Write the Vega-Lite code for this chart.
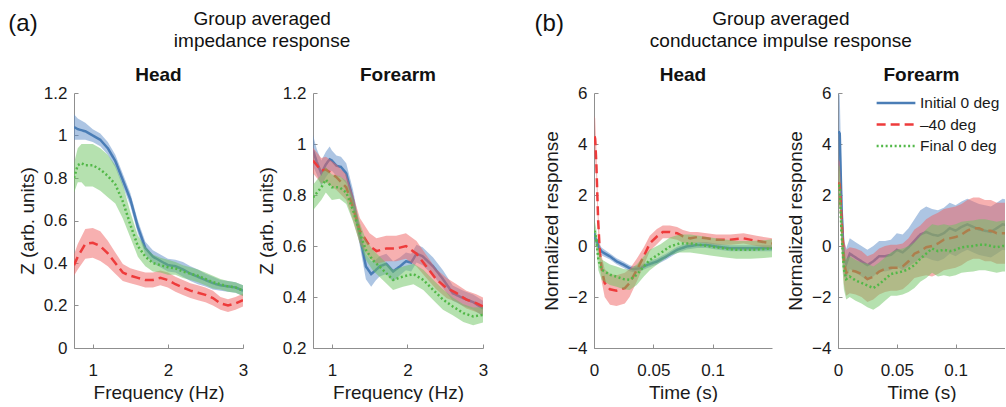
{
"$schema": "https://vega.github.io/schema/vega-lite/v6.json",
"padding": {"left": 8, "top": 10, "right": 0, "bottom": 0},
"background": "white",
"config": {
  "font": "Liberation Sans",
  "view": {"stroke": null},
  "axis": {"grid": false, "domainColor": "#8f8f8f", "tickColor": "#8f8f8f", "tickSize": -4, "labelFontSize": 17, "titleFontSize": 19, "titleFontWeight": "normal", "labelColor": "#1a1a1a", "titleColor": "#1a1a1a", "domainWidth": 1},
  "axisX": {"labelPadding": 18, "titlePadding": 5, "labelFlush": false},
  "axisY": {"labelPadding": 11, "titlePadding": 6},
  "title": {"fontSize": 19, "fontWeight": "bold", "color": "#111111", "offset": -1}
},
"datasets": {
"zh": [
{"c":"Initial 0 deg","x":0.75,"y":1.04,"lo":0.98,"hi":1.10},
{"c":"Initial 0 deg","x":0.8,"y":1.03,"lo":0.98,"hi":1.08},
{"c":"Initial 0 deg","x":0.9,"y":1.02,"lo":0.98,"hi":1.06},
{"c":"Initial 0 deg","x":1.0,"y":1.00,"lo":0.97,"hi":1.03},
{"c":"Initial 0 deg","x":1.1,"y":0.98,"lo":0.95,"hi":1.01},
{"c":"Initial 0 deg","x":1.2,"y":0.94,"lo":0.91,"hi":0.97},
{"c":"Initial 0 deg","x":1.3,"y":0.88,"lo":0.85,"hi":0.91},
{"c":"Initial 0 deg","x":1.4,"y":0.79,"lo":0.76,"hi":0.82},
{"c":"Initial 0 deg","x":1.5,"y":0.70,"lo":0.67,"hi":0.73},
{"c":"Initial 0 deg","x":1.6,"y":0.57,"lo":0.54,"hi":0.60},
{"c":"Initial 0 deg","x":1.7,"y":0.47,"lo":0.44,"hi":0.50},
{"c":"Initial 0 deg","x":1.8,"y":0.43,"lo":0.40,"hi":0.46},
{"c":"Initial 0 deg","x":1.9,"y":0.41,"lo":0.38,"hi":0.44},
{"c":"Initial 0 deg","x":2.0,"y":0.39,"lo":0.36,"hi":0.42},
{"c":"Initial 0 deg","x":2.1,"y":0.385,"lo":0.355,"hi":0.415},
{"c":"Initial 0 deg","x":2.2,"y":0.37,"lo":0.335,"hi":0.405},
{"c":"Initial 0 deg","x":2.3,"y":0.35,"lo":0.315,"hi":0.385},
{"c":"Initial 0 deg","x":2.4,"y":0.335,"lo":0.30,"hi":0.37},
{"c":"Initial 0 deg","x":2.5,"y":0.32,"lo":0.29,"hi":0.35},
{"c":"Initial 0 deg","x":2.6,"y":0.305,"lo":0.275,"hi":0.335},
{"c":"Initial 0 deg","x":2.7,"y":0.295,"lo":0.27,"hi":0.32},
{"c":"Initial 0 deg","x":2.8,"y":0.29,"lo":0.265,"hi":0.315},
{"c":"Initial 0 deg","x":2.9,"y":0.285,"lo":0.26,"hi":0.31},
{"c":"Initial 0 deg","x":3.0,"y":0.27,"lo":0.245,"hi":0.295},
{"c":"–40 deg","x":0.75,"y":0.39,"lo":0.34,"hi":0.44},
{"c":"–40 deg","x":0.8,"y":0.43,"lo":0.37,"hi":0.49},
{"c":"–40 deg","x":0.9,"y":0.49,"lo":0.42,"hi":0.56},
{"c":"–40 deg","x":1.0,"y":0.495,"lo":0.425,"hi":0.565},
{"c":"–40 deg","x":1.1,"y":0.48,"lo":0.41,"hi":0.55},
{"c":"–40 deg","x":1.2,"y":0.445,"lo":0.385,"hi":0.505},
{"c":"–40 deg","x":1.3,"y":0.40,"lo":0.35,"hi":0.45},
{"c":"–40 deg","x":1.4,"y":0.355,"lo":0.315,"hi":0.395},
{"c":"–40 deg","x":1.5,"y":0.34,"lo":0.305,"hi":0.375},
{"c":"–40 deg","x":1.6,"y":0.33,"lo":0.295,"hi":0.365},
{"c":"–40 deg","x":1.7,"y":0.32,"lo":0.285,"hi":0.355},
{"c":"–40 deg","x":1.8,"y":0.32,"lo":0.285,"hi":0.355},
{"c":"–40 deg","x":1.9,"y":0.33,"lo":0.295,"hi":0.365},
{"c":"–40 deg","x":2.0,"y":0.32,"lo":0.285,"hi":0.355},
{"c":"–40 deg","x":2.1,"y":0.30,"lo":0.265,"hi":0.335},
{"c":"–40 deg","x":2.2,"y":0.285,"lo":0.25,"hi":0.32},
{"c":"–40 deg","x":2.3,"y":0.27,"lo":0.235,"hi":0.305},
{"c":"–40 deg","x":2.4,"y":0.26,"lo":0.225,"hi":0.295},
{"c":"–40 deg","x":2.5,"y":0.25,"lo":0.215,"hi":0.285},
{"c":"–40 deg","x":2.6,"y":0.235,"lo":0.20,"hi":0.27},
{"c":"–40 deg","x":2.7,"y":0.21,"lo":0.18,"hi":0.24},
{"c":"–40 deg","x":2.8,"y":0.20,"lo":0.17,"hi":0.23},
{"c":"–40 deg","x":2.9,"y":0.21,"lo":0.18,"hi":0.24},
{"c":"–40 deg","x":3.0,"y":0.225,"lo":0.195,"hi":0.255},
{"c":"Final 0 deg","x":0.75,"y":0.80,"lo":0.73,"hi":0.87},
{"c":"Final 0 deg","x":0.8,"y":0.86,"lo":0.78,"hi":0.94},
{"c":"Final 0 deg","x":0.85,"y":0.87,"lo":0.78,"hi":0.96},
{"c":"Final 0 deg","x":0.9,"y":0.86,"lo":0.76,"hi":0.96},
{"c":"Final 0 deg","x":1.0,"y":0.86,"lo":0.76,"hi":0.96},
{"c":"Final 0 deg","x":1.1,"y":0.84,"lo":0.74,"hi":0.94},
{"c":"Final 0 deg","x":1.2,"y":0.81,"lo":0.71,"hi":0.91},
{"c":"Final 0 deg","x":1.3,"y":0.77,"lo":0.68,"hi":0.86},
{"c":"Final 0 deg","x":1.4,"y":0.69,"lo":0.61,"hi":0.77},
{"c":"Final 0 deg","x":1.5,"y":0.58,"lo":0.52,"hi":0.64},
{"c":"Final 0 deg","x":1.6,"y":0.48,"lo":0.43,"hi":0.53},
{"c":"Final 0 deg","x":1.7,"y":0.43,"lo":0.385,"hi":0.475},
{"c":"Final 0 deg","x":1.8,"y":0.40,"lo":0.36,"hi":0.44},
{"c":"Final 0 deg","x":1.9,"y":0.39,"lo":0.355,"hi":0.425},
{"c":"Final 0 deg","x":2.0,"y":0.38,"lo":0.345,"hi":0.415},
{"c":"Final 0 deg","x":2.1,"y":0.375,"lo":0.345,"hi":0.405},
{"c":"Final 0 deg","x":2.2,"y":0.36,"lo":0.33,"hi":0.39},
{"c":"Final 0 deg","x":2.3,"y":0.35,"lo":0.32,"hi":0.38},
{"c":"Final 0 deg","x":2.4,"y":0.34,"lo":0.31,"hi":0.37},
{"c":"Final 0 deg","x":2.5,"y":0.325,"lo":0.295,"hi":0.355},
{"c":"Final 0 deg","x":2.6,"y":0.31,"lo":0.28,"hi":0.34},
{"c":"Final 0 deg","x":2.7,"y":0.30,"lo":0.275,"hi":0.325},
{"c":"Final 0 deg","x":2.8,"y":0.29,"lo":0.265,"hi":0.315},
{"c":"Final 0 deg","x":2.9,"y":0.285,"lo":0.26,"hi":0.31},
{"c":"Final 0 deg","x":3.0,"y":0.27,"lo":0.245,"hi":0.295}
],
"zf": [
{"c":"Initial 0 deg","x":0.75,"y":0.975,"lo":0.915,"hi":1.035},
{"c":"Initial 0 deg","x":0.8,"y":0.93,"lo":0.88,"hi":0.98},
{"c":"Initial 0 deg","x":0.86,"y":0.885,"lo":0.835,"hi":0.935},
{"c":"Initial 0 deg","x":0.92,"y":0.92,"lo":0.87,"hi":0.97},
{"c":"Initial 0 deg","x":0.97,"y":0.94,"lo":0.89,"hi":0.99},
{"c":"Initial 0 deg","x":1.0,"y":0.935,"lo":0.895,"hi":0.975},
{"c":"Initial 0 deg","x":1.06,"y":0.915,"lo":0.875,"hi":0.955},
{"c":"Initial 0 deg","x":1.12,"y":0.91,"lo":0.87,"hi":0.95},
{"c":"Initial 0 deg","x":1.19,"y":0.885,"lo":0.845,"hi":0.925},
{"c":"Initial 0 deg","x":1.28,"y":0.78,"lo":0.74,"hi":0.82},
{"c":"Initial 0 deg","x":1.37,"y":0.64,"lo":0.60,"hi":0.68},
{"c":"Initial 0 deg","x":1.45,"y":0.52,"lo":0.47,"hi":0.57},
{"c":"Initial 0 deg","x":1.52,"y":0.49,"lo":0.44,"hi":0.54},
{"c":"Initial 0 deg","x":1.58,"y":0.505,"lo":0.465,"hi":0.545},
{"c":"Initial 0 deg","x":1.63,"y":0.52,"lo":0.48,"hi":0.56},
{"c":"Initial 0 deg","x":1.72,"y":0.53,"lo":0.49,"hi":0.57},
{"c":"Initial 0 deg","x":1.81,"y":0.50,"lo":0.46,"hi":0.54},
{"c":"Initial 0 deg","x":1.9,"y":0.52,"lo":0.485,"hi":0.555},
{"c":"Initial 0 deg","x":1.98,"y":0.54,"lo":0.505,"hi":0.575},
{"c":"Initial 0 deg","x":2.05,"y":0.535,"lo":0.50,"hi":0.57},
{"c":"Initial 0 deg","x":2.12,"y":0.57,"lo":0.535,"hi":0.605},
{"c":"Initial 0 deg","x":2.2,"y":0.56,"lo":0.525,"hi":0.595},
{"c":"Initial 0 deg","x":2.34,"y":0.52,"lo":0.485,"hi":0.555},
{"c":"Initial 0 deg","x":2.47,"y":0.47,"lo":0.435,"hi":0.505},
{"c":"Initial 0 deg","x":2.6,"y":0.415,"lo":0.385,"hi":0.445},
{"c":"Initial 0 deg","x":2.74,"y":0.395,"lo":0.365,"hi":0.425},
{"c":"Initial 0 deg","x":2.87,"y":0.38,"lo":0.35,"hi":0.41},
{"c":"Initial 0 deg","x":3.0,"y":0.355,"lo":0.325,"hi":0.385},
{"c":"–40 deg","x":0.75,"y":0.935,"lo":0.885,"hi":0.985},
{"c":"–40 deg","x":0.86,"y":0.895,"lo":0.845,"hi":0.945},
{"c":"–40 deg","x":0.92,"y":0.90,"lo":0.85,"hi":0.95},
{"c":"–40 deg","x":1.06,"y":0.87,"lo":0.82,"hi":0.92},
{"c":"–40 deg","x":1.19,"y":0.83,"lo":0.78,"hi":0.88},
{"c":"–40 deg","x":1.28,"y":0.75,"lo":0.70,"hi":0.80},
{"c":"–40 deg","x":1.37,"y":0.66,"lo":0.61,"hi":0.71},
{"c":"–40 deg","x":1.5,"y":0.60,"lo":0.55,"hi":0.65},
{"c":"–40 deg","x":1.59,"y":0.58,"lo":0.53,"hi":0.63},
{"c":"–40 deg","x":1.72,"y":0.59,"lo":0.54,"hi":0.64},
{"c":"–40 deg","x":1.85,"y":0.59,"lo":0.54,"hi":0.64},
{"c":"–40 deg","x":1.98,"y":0.60,"lo":0.55,"hi":0.65},
{"c":"–40 deg","x":2.12,"y":0.57,"lo":0.52,"hi":0.62},
{"c":"–40 deg","x":2.25,"y":0.52,"lo":0.475,"hi":0.565},
{"c":"–40 deg","x":2.38,"y":0.47,"lo":0.43,"hi":0.51},
{"c":"–40 deg","x":2.52,"y":0.435,"lo":0.395,"hi":0.475},
{"c":"–40 deg","x":2.65,"y":0.415,"lo":0.38,"hi":0.45},
{"c":"–40 deg","x":2.78,"y":0.39,"lo":0.355,"hi":0.425},
{"c":"–40 deg","x":2.91,"y":0.376,"lo":0.341,"hi":0.411},
{"c":"–40 deg","x":3.0,"y":0.363,"lo":0.328,"hi":0.398},
{"c":"Final 0 deg","x":0.75,"y":0.79,"lo":0.74,"hi":0.84},
{"c":"Final 0 deg","x":0.86,"y":0.83,"lo":0.78,"hi":0.88},
{"c":"Final 0 deg","x":0.92,"y":0.86,"lo":0.81,"hi":0.91},
{"c":"Final 0 deg","x":1.0,"y":0.83,"lo":0.78,"hi":0.88},
{"c":"Final 0 deg","x":1.1,"y":0.83,"lo":0.785,"hi":0.875},
{"c":"Final 0 deg","x":1.19,"y":0.81,"lo":0.765,"hi":0.855},
{"c":"Final 0 deg","x":1.28,"y":0.74,"lo":0.695,"hi":0.785},
{"c":"Final 0 deg","x":1.37,"y":0.65,"lo":0.61,"hi":0.69},
{"c":"Final 0 deg","x":1.45,"y":0.585,"lo":0.545,"hi":0.625},
{"c":"Final 0 deg","x":1.54,"y":0.545,"lo":0.505,"hi":0.585},
{"c":"Final 0 deg","x":1.68,"y":0.505,"lo":0.465,"hi":0.545},
{"c":"Final 0 deg","x":1.81,"y":0.467,"lo":0.427,"hi":0.507},
{"c":"Final 0 deg","x":1.94,"y":0.48,"lo":0.44,"hi":0.52},
{"c":"Final 0 deg","x":2.08,"y":0.49,"lo":0.45,"hi":0.53},
{"c":"Final 0 deg","x":2.21,"y":0.467,"lo":0.427,"hi":0.507},
{"c":"Final 0 deg","x":2.34,"y":0.428,"lo":0.388,"hi":0.468},
{"c":"Final 0 deg","x":2.47,"y":0.39,"lo":0.35,"hi":0.43},
{"c":"Final 0 deg","x":2.6,"y":0.363,"lo":0.328,"hi":0.398},
{"c":"Final 0 deg","x":2.74,"y":0.337,"lo":0.302,"hi":0.372},
{"c":"Final 0 deg","x":2.87,"y":0.324,"lo":0.289,"hi":0.359},
{"c":"Final 0 deg","x":3.0,"y":0.33,"lo":0.30,"hi":0.36}
],
"ch": [
{"c":"Initial 0 deg","x":0.0005,"y":0.5,"lo":0.3,"hi":0.7},
{"c":"Initial 0 deg","x":0.001,"y":0.3,"lo":0.1,"hi":0.5},
{"c":"Initial 0 deg","x":0.002,"y":0.25,"lo":0.1,"hi":0.4},
{"c":"Initial 0 deg","x":0.004,"y":-0.05,"lo":-0.2,"hi":0.1},
{"c":"Initial 0 deg","x":0.0065,"y":-0.22,"lo":-0.37,"hi":-0.07},
{"c":"Initial 0 deg","x":0.0135,"y":-0.41,"lo":-0.53,"hi":-0.29},
{"c":"Initial 0 deg","x":0.019,"y":-0.6,"lo":-0.72,"hi":-0.48},
{"c":"Initial 0 deg","x":0.025,"y":-0.74,"lo":-0.86,"hi":-0.62},
{"c":"Initial 0 deg","x":0.03,"y":-0.87,"lo":-0.99,"hi":-0.75},
{"c":"Initial 0 deg","x":0.033,"y":-0.91,"lo":-1.03,"hi":-0.79},
{"c":"Initial 0 deg","x":0.039,"y":-0.87,"lo":-0.99,"hi":-0.75},
{"c":"Initial 0 deg","x":0.045,"y":-0.74,"lo":-0.86,"hi":-0.62},
{"c":"Initial 0 deg","x":0.053,"y":-0.61,"lo":-0.73,"hi":-0.49},
{"c":"Initial 0 deg","x":0.061,"y":-0.41,"lo":-0.53,"hi":-0.29},
{"c":"Initial 0 deg","x":0.07,"y":-0.15,"lo":-0.27,"hi":-0.03},
{"c":"Initial 0 deg","x":0.078,"y":-0.02,"lo":-0.14,"hi":0.10},
{"c":"Initial 0 deg","x":0.087,"y":0.04,"lo":-0.08,"hi":0.16},
{"c":"Initial 0 deg","x":0.095,"y":0.04,"lo":-0.08,"hi":0.16},
{"c":"Initial 0 deg","x":0.103,"y":-0.02,"lo":-0.14,"hi":0.10},
{"c":"Initial 0 deg","x":0.115,"y":-0.09,"lo":-0.21,"hi":0.03},
{"c":"Initial 0 deg","x":0.126,"y":-0.09,"lo":-0.21,"hi":0.03},
{"c":"Initial 0 deg","x":0.137,"y":-0.09,"lo":-0.21,"hi":0.03},
{"c":"Initial 0 deg","x":0.15,"y":-0.09,"lo":-0.21,"hi":0.03},
{"c":"–40 deg","x":0.0005,"y":4.3,"lo":3.5,"hi":5.1},
{"c":"–40 deg","x":0.001,"y":4.2,"lo":3.4,"hi":5.0},
{"c":"–40 deg","x":0.002,"y":3.2,"lo":2.6,"hi":3.8},
{"c":"–40 deg","x":0.0035,"y":1.0,"lo":0.5,"hi":1.5},
{"c":"–40 deg","x":0.005,"y":-0.3,"lo":-0.75,"hi":0.15},
{"c":"–40 deg","x":0.0065,"y":-0.9,"lo":-1.4,"hi":-0.4},
{"c":"–40 deg","x":0.009,"y":-1.45,"lo":-2.0,"hi":-0.9},
{"c":"–40 deg","x":0.0135,"y":-1.7,"lo":-2.3,"hi":-1.1},
{"c":"–40 deg","x":0.019,"y":-1.75,"lo":-2.35,"hi":-1.15},
{"c":"–40 deg","x":0.026,"y":-1.65,"lo":-2.25,"hi":-1.05},
{"c":"–40 deg","x":0.03,"y":-1.45,"lo":-2.0,"hi":-0.9},
{"c":"–40 deg","x":0.036,"y":-0.95,"lo":-1.4,"hi":-0.5},
{"c":"–40 deg","x":0.042,"y":-0.4,"lo":-0.75,"hi":-0.05},
{"c":"–40 deg","x":0.047,"y":0.1,"lo":-0.2,"hi":0.4},
{"c":"–40 deg","x":0.053,"y":0.37,"lo":0.07,"hi":0.67},
{"c":"–40 deg","x":0.058,"y":0.55,"lo":0.3,"hi":0.8},
{"c":"–40 deg","x":0.064,"y":0.55,"lo":0.3,"hi":0.8},
{"c":"–40 deg","x":0.07,"y":0.5,"lo":0.25,"hi":0.75},
{"c":"–40 deg","x":0.075,"y":0.38,"lo":0.13,"hi":0.63},
{"c":"–40 deg","x":0.081,"y":0.3,"lo":0.05,"hi":0.55},
{"c":"–40 deg","x":0.087,"y":0.35,"lo":0.15,"hi":0.55},
{"c":"–40 deg","x":0.095,"y":0.3,"lo":0.1,"hi":0.5},
{"c":"–40 deg","x":0.103,"y":0.25,"lo":0.05,"hi":0.45},
{"c":"–40 deg","x":0.115,"y":0.25,"lo":0.05,"hi":0.45},
{"c":"–40 deg","x":0.126,"y":0.3,"lo":0.1,"hi":0.5},
{"c":"–40 deg","x":0.137,"y":0.2,"lo":0.0,"hi":0.4},
{"c":"–40 deg","x":0.15,"y":0.1,"lo":-0.1,"hi":0.3},
{"c":"Final 0 deg","x":0.0005,"y":0.6,"lo":0.2,"hi":1.0},
{"c":"Final 0 deg","x":0.001,"y":0.5,"lo":0.1,"hi":0.9},
{"c":"Final 0 deg","x":0.002,"y":0.24,"lo":-0.16,"hi":0.64},
{"c":"Final 0 deg","x":0.0037,"y":-0.55,"lo":-0.95,"hi":-0.15},
{"c":"Final 0 deg","x":0.0065,"y":-0.93,"lo":-1.33,"hi":-0.53},
{"c":"Final 0 deg","x":0.0135,"y":-1.13,"lo":-1.53,"hi":-0.73},
{"c":"Final 0 deg","x":0.019,"y":-1.2,"lo":-1.6,"hi":-0.8},
{"c":"Final 0 deg","x":0.025,"y":-1.3,"lo":-1.7,"hi":-0.9},
{"c":"Final 0 deg","x":0.03,"y":-1.33,"lo":-1.73,"hi":-0.93},
{"c":"Final 0 deg","x":0.036,"y":-1.13,"lo":-1.53,"hi":-0.73},
{"c":"Final 0 deg","x":0.042,"y":-0.8,"lo":-1.2,"hi":-0.4},
{"c":"Final 0 deg","x":0.047,"y":-0.55,"lo":-0.95,"hi":-0.15},
{"c":"Final 0 deg","x":0.056,"y":-0.28,"lo":-0.63,"hi":0.07},
{"c":"Final 0 deg","x":0.064,"y":-0.02,"lo":-0.37,"hi":0.33},
{"c":"Final 0 deg","x":0.072,"y":0.1,"lo":-0.25,"hi":0.45},
{"c":"Final 0 deg","x":0.081,"y":0.1,"lo":-0.25,"hi":0.45},
{"c":"Final 0 deg","x":0.09,"y":0.04,"lo":-0.31,"hi":0.39},
{"c":"Final 0 deg","x":0.098,"y":-0.02,"lo":-0.37,"hi":0.33},
{"c":"Final 0 deg","x":0.109,"y":-0.09,"lo":-0.44,"hi":0.26},
{"c":"Final 0 deg","x":0.12,"y":-0.15,"lo":-0.5,"hi":0.2},
{"c":"Final 0 deg","x":0.132,"y":-0.15,"lo":-0.5,"hi":0.2},
{"c":"Final 0 deg","x":0.143,"y":-0.12,"lo":-0.47,"hi":0.23},
{"c":"Final 0 deg","x":0.15,"y":-0.09,"lo":-0.44,"hi":0.26}
],
"cf": [
{"c":"Initial 0 deg","x":0.0005,"y":4.5,"lo":3.0,"hi":6.0},
{"c":"Initial 0 deg","x":0.0015,"y":4.4,"lo":2.9,"hi":5.9},
{"c":"Initial 0 deg","x":0.003,"y":1.5,"lo":0.3,"hi":2.7},
{"c":"Initial 0 deg","x":0.005,"y":-0.5,"lo":-1.2,"hi":0.2},
{"c":"Initial 0 deg","x":0.007,"y":-0.7,"lo":-1.3,"hi":-0.1},
{"c":"Initial 0 deg","x":0.01,"y":-0.3,"lo":-0.9,"hi":0.3},
{"c":"Initial 0 deg","x":0.015,"y":-0.45,"lo":-1.05,"hi":0.15},
{"c":"Initial 0 deg","x":0.02,"y":-0.6,"lo":-1.2,"hi":0.0},
{"c":"Initial 0 deg","x":0.025,"y":-0.75,"lo":-1.35,"hi":-0.15},
{"c":"Initial 0 deg","x":0.03,"y":-0.6,"lo":-1.2,"hi":0.0},
{"c":"Initial 0 deg","x":0.035,"y":-0.4,"lo":-1.0,"hi":0.2},
{"c":"Initial 0 deg","x":0.04,"y":-0.4,"lo":-1.0,"hi":0.2},
{"c":"Initial 0 deg","x":0.045,"y":-0.35,"lo":-0.95,"hi":0.25},
{"c":"Initial 0 deg","x":0.05,"y":-0.15,"lo":-0.8,"hi":0.5},
{"c":"Initial 0 deg","x":0.055,"y":-0.25,"lo":-0.95,"hi":0.45},
{"c":"Initial 0 deg","x":0.06,"y":-0.05,"lo":-0.8,"hi":0.7},
{"c":"Initial 0 deg","x":0.065,"y":0.2,"lo":-0.65,"hi":1.05},
{"c":"Initial 0 deg","x":0.07,"y":0.45,"lo":-0.5,"hi":1.4},
{"c":"Initial 0 deg","x":0.075,"y":0.55,"lo":-0.45,"hi":1.55},
{"c":"Initial 0 deg","x":0.08,"y":0.45,"lo":-0.55,"hi":1.45},
{"c":"Initial 0 deg","x":0.085,"y":0.4,"lo":-0.6,"hi":1.4},
{"c":"Initial 0 deg","x":0.09,"y":0.5,"lo":-0.5,"hi":1.5},
{"c":"Initial 0 deg","x":0.095,"y":0.7,"lo":-0.3,"hi":1.7},
{"c":"Initial 0 deg","x":0.1,"y":0.6,"lo":-0.4,"hi":1.6},
{"c":"Initial 0 deg","x":0.105,"y":0.75,"lo":-0.25,"hi":1.75},
{"c":"Initial 0 deg","x":0.11,"y":0.85,"lo":-0.15,"hi":1.85},
{"c":"Initial 0 deg","x":0.115,"y":0.75,"lo":-0.25,"hi":1.75},
{"c":"Initial 0 deg","x":0.12,"y":0.65,"lo":-0.35,"hi":1.65},
{"c":"Initial 0 deg","x":0.125,"y":0.6,"lo":-0.4,"hi":1.6},
{"c":"Initial 0 deg","x":0.13,"y":0.55,"lo":-0.45,"hi":1.55},
{"c":"Initial 0 deg","x":0.135,"y":0.7,"lo":-0.3,"hi":1.7},
{"c":"Initial 0 deg","x":0.14,"y":0.85,"lo":-0.15,"hi":1.85},
{"c":"Initial 0 deg","x":0.145,"y":0.8,"lo":-0.2,"hi":1.8},
{"c":"Initial 0 deg","x":0.15,"y":0.75,"lo":-0.25,"hi":1.75},
{"c":"–40 deg","x":0.0005,"y":2.5,"lo":1.6,"hi":3.4},
{"c":"–40 deg","x":0.0015,"y":2.4,"lo":1.5,"hi":3.3},
{"c":"–40 deg","x":0.003,"y":1.0,"lo":0.1,"hi":1.9},
{"c":"–40 deg","x":0.005,"y":-0.6,"lo":-1.5,"hi":0.3},
{"c":"–40 deg","x":0.007,"y":-1.05,"lo":-1.95,"hi":-0.15},
{"c":"–40 deg","x":0.01,"y":-0.95,"lo":-1.85,"hi":-0.05},
{"c":"–40 deg","x":0.015,"y":-1.0,"lo":-1.9,"hi":-0.1},
{"c":"–40 deg","x":0.02,"y":-1.1,"lo":-2.0,"hi":-0.2},
{"c":"–40 deg","x":0.025,"y":-1.3,"lo":-2.2,"hi":-0.4},
{"c":"–40 deg","x":0.03,"y":-1.2,"lo":-2.1,"hi":-0.3},
{"c":"–40 deg","x":0.035,"y":-1.0,"lo":-1.9,"hi":-0.1},
{"c":"–40 deg","x":0.04,"y":-0.9,"lo":-1.8,"hi":0.0},
{"c":"–40 deg","x":0.045,"y":-0.85,"lo":-1.75,"hi":0.05},
{"c":"–40 deg","x":0.05,"y":-0.85,"lo":-1.75,"hi":0.05},
{"c":"–40 deg","x":0.055,"y":-0.8,"lo":-1.7,"hi":0.1},
{"c":"–40 deg","x":0.06,"y":-0.6,"lo":-1.5,"hi":0.3},
{"c":"–40 deg","x":0.065,"y":-0.3,"lo":-1.25,"hi":0.65},
{"c":"–40 deg","x":0.07,"y":-0.2,"lo":-1.2,"hi":0.8},
{"c":"–40 deg","x":0.075,"y":-0.05,"lo":-1.15,"hi":1.05},
{"c":"–40 deg","x":0.08,"y":0.0,"lo":-1.2,"hi":1.2},
{"c":"–40 deg","x":0.085,"y":0.1,"lo":-1.1,"hi":1.3},
{"c":"–40 deg","x":0.09,"y":0.25,"lo":-0.95,"hi":1.45},
{"c":"–40 deg","x":0.095,"y":0.3,"lo":-0.9,"hi":1.5},
{"c":"–40 deg","x":0.1,"y":0.35,"lo":-0.85,"hi":1.55},
{"c":"–40 deg","x":0.105,"y":0.45,"lo":-0.75,"hi":1.65},
{"c":"–40 deg","x":0.11,"y":0.6,"lo":-0.6,"hi":1.8},
{"c":"–40 deg","x":0.115,"y":0.7,"lo":-0.5,"hi":1.9},
{"c":"–40 deg","x":0.12,"y":0.7,"lo":-0.5,"hi":1.9},
{"c":"–40 deg","x":0.125,"y":0.6,"lo":-0.6,"hi":1.8},
{"c":"–40 deg","x":0.13,"y":0.6,"lo":-0.6,"hi":1.8},
{"c":"–40 deg","x":0.135,"y":0.5,"lo":-0.7,"hi":1.7},
{"c":"–40 deg","x":0.14,"y":0.5,"lo":-0.7,"hi":1.7},
{"c":"–40 deg","x":0.145,"y":0.5,"lo":-0.7,"hi":1.7},
{"c":"–40 deg","x":0.15,"y":0.5,"lo":-0.7,"hi":1.7},
{"c":"Final 0 deg","x":0.0005,"y":2.4,"lo":1.6,"hi":3.2},
{"c":"Final 0 deg","x":0.0015,"y":2.3,"lo":1.5,"hi":3.1},
{"c":"Final 0 deg","x":0.003,"y":0.5,"lo":-0.3,"hi":1.3},
{"c":"Final 0 deg","x":0.005,"y":-0.9,"lo":-1.7,"hi":-0.1},
{"c":"Final 0 deg","x":0.007,"y":-1.3,"lo":-2.1,"hi":-0.5},
{"c":"Final 0 deg","x":0.01,"y":-1.2,"lo":-2.0,"hi":-0.4},
{"c":"Final 0 deg","x":0.015,"y":-1.35,"lo":-2.15,"hi":-0.55},
{"c":"Final 0 deg","x":0.02,"y":-1.45,"lo":-2.25,"hi":-0.65},
{"c":"Final 0 deg","x":0.025,"y":-1.55,"lo":-2.4,"hi":-0.7},
{"c":"Final 0 deg","x":0.03,"y":-1.65,"lo":-2.5,"hi":-0.8},
{"c":"Final 0 deg","x":0.035,"y":-1.5,"lo":-2.35,"hi":-0.65},
{"c":"Final 0 deg","x":0.04,"y":-1.3,"lo":-2.15,"hi":-0.45},
{"c":"Final 0 deg","x":0.045,"y":-1.1,"lo":-1.95,"hi":-0.25},
{"c":"Final 0 deg","x":0.05,"y":-1.05,"lo":-1.95,"hi":-0.15},
{"c":"Final 0 deg","x":0.055,"y":-1.0,"lo":-1.9,"hi":-0.1},
{"c":"Final 0 deg","x":0.06,"y":-0.9,"lo":-1.8,"hi":0.0},
{"c":"Final 0 deg","x":0.065,"y":-0.75,"lo":-1.65,"hi":0.15},
{"c":"Final 0 deg","x":0.07,"y":-0.5,"lo":-1.4,"hi":0.4},
{"c":"Final 0 deg","x":0.075,"y":-0.3,"lo":-1.25,"hi":0.65},
{"c":"Final 0 deg","x":0.08,"y":-0.1,"lo":-1.05,"hi":0.85},
{"c":"Final 0 deg","x":0.085,"y":-0.2,"lo":-1.2,"hi":0.8},
{"c":"Final 0 deg","x":0.09,"y":-0.15,"lo":-1.15,"hi":0.85},
{"c":"Final 0 deg","x":0.095,"y":-0.2,"lo":-1.2,"hi":0.8},
{"c":"Final 0 deg","x":0.1,"y":-0.15,"lo":-1.15,"hi":0.85},
{"c":"Final 0 deg","x":0.105,"y":-0.05,"lo":-1.05,"hi":0.95},
{"c":"Final 0 deg","x":0.11,"y":-0.02,"lo":-1.02,"hi":0.98},
{"c":"Final 0 deg","x":0.115,"y":0.0,"lo":-1.0,"hi":1.0},
{"c":"Final 0 deg","x":0.12,"y":0.05,"lo":-0.95,"hi":1.05},
{"c":"Final 0 deg","x":0.125,"y":0.05,"lo":-0.95,"hi":1.05},
{"c":"Final 0 deg","x":0.13,"y":0.0,"lo":-1.0,"hi":1.0},
{"c":"Final 0 deg","x":0.135,"y":-0.05,"lo":-1.05,"hi":0.95},
{"c":"Final 0 deg","x":0.14,"y":0.0,"lo":-1.0,"hi":1.0},
{"c":"Final 0 deg","x":0.145,"y":0.0,"lo":-1.0,"hi":1.0},
{"c":"Final 0 deg","x":0.15,"y":0.0,"lo":-1.0,"hi":1.0}
]
},
"spacing": 46,
"hconcat": [
{
 "title": {"text": "(a)", "anchor": "start", "fontSize": 24, "fontWeight": "normal", "dx": -10, "dy": 26, "offset": 0},
 "hconcat": [
 {
  "title": {"text": ["Group averaged", "impedance response"], "anchor": "middle", "dx": 9, "fontSize": 19, "fontWeight": "normal", "lineHeight": 22, "offset": 15},
  "spacing": 9,
  "hconcat": [
  {
   "width": 169, "height": 255,
   "title": {"text": "Head"},
   "data": {"name": "zh"},
   "encoding": {"x": {"field": "x", "type": "quantitative", "scale": {"domain": [0.75, 3], "nice": false, "zero": false}, "axis": {"values": [1, 2, 3], "format": "~g", "title": "Frequency (Hz)"}}},
   "layer": [
    {"transform": [{"filter": "datum.c === 'Initial 0 deg'"}], "mark": {"type": "area", "color": "#5b8cc8", "opacity": 0.5, "clip": true},
     "encoding": {"y": {"field": "lo", "type": "quantitative", "scale": {"domain": [0, 1.2], "nice": false, "zero": false}, "axis": {"values": [0, 0.2, 0.4, 0.6, 0.8, 1, 1.2], "format": "~g", "title": "Z (arb. units)"}}, "y2": {"field": "hi"}}},
    {"transform": [{"filter": "datum.c === 'Initial 0 deg'"}], "mark": {"type": "line", "strokeWidth": 2.5, "clip": true},
     "encoding": {"y": {"field": "y", "type": "quantitative"},
      "color": {"field": "c", "type": "nominal", "scale": {"domain": ["Initial 0 deg", "–40 deg", "Final 0 deg"], "range": ["#4a7db6", "#ee3b3b", "#52b848"]}},
      "strokeDash": {"field": "c", "type": "nominal", "scale": {"domain": ["Initial 0 deg", "–40 deg", "Final 0 deg"], "range": [[1, 0], [9, 5], [2, 2.5]]}}}},
    {"transform": [{"filter": "datum.c === '–40 deg'"}], "mark": {"type": "area", "color": "#f06262", "opacity": 0.5, "clip": true},
     "encoding": {"y": {"field": "lo", "type": "quantitative"}, "y2": {"field": "hi"}}},
    {"transform": [{"filter": "datum.c === '–40 deg'"}], "mark": {"type": "line", "strokeWidth": 2.5, "clip": true},
     "encoding": {"y": {"field": "y", "type": "quantitative"}, "color": {"field": "c", "type": "nominal"}, "strokeDash": {"field": "c", "type": "nominal"}}},
    {"transform": [{"filter": "datum.c === 'Final 0 deg'"}], "mark": {"type": "area", "color": "#6cc35f", "opacity": 0.5, "clip": true},
     "encoding": {"y": {"field": "lo", "type": "quantitative"}, "y2": {"field": "hi"}}},
    {"transform": [{"filter": "datum.c === 'Final 0 deg'"}], "mark": {"type": "line", "strokeWidth": 2.5, "clip": true},
     "encoding": {"y": {"field": "y", "type": "quantitative"}, "color": {"field": "c", "type": "nominal"}, "strokeDash": {"field": "c", "type": "nominal"}}}
   ]
  },
  {
   "width": 170, "height": 255,
   "title": {"text": "Forearm"},
   "data": {"name": "zf"},
   "encoding": {"x": {"field": "x", "type": "quantitative", "scale": {"domain": [0.75, 3], "nice": false, "zero": false}, "axis": {"values": [1, 2, 3], "format": "~g", "title": "Frequency (Hz)"}}},
   "layer": [
    {"transform": [{"filter": "datum.c === 'Initial 0 deg'"}], "mark": {"type": "area", "color": "#5b8cc8", "opacity": 0.5, "clip": true},
     "encoding": {"y": {"field": "lo", "type": "quantitative", "scale": {"domain": [0.2, 1.2], "nice": false, "zero": false}, "axis": {"values": [0.2, 0.4, 0.6, 0.8, 1, 1.2], "format": "~g", "title": "Z (arb. units)"}}, "y2": {"field": "hi"}}},
    {"transform": [{"filter": "datum.c === 'Initial 0 deg'"}], "mark": {"type": "line", "strokeWidth": 2.5, "clip": true},
     "encoding": {"y": {"field": "y", "type": "quantitative"}, "color": {"field": "c", "type": "nominal"}, "strokeDash": {"field": "c", "type": "nominal"}}},
    {"transform": [{"filter": "datum.c === '–40 deg'"}], "mark": {"type": "area", "color": "#f06262", "opacity": 0.5, "clip": true},
     "encoding": {"y": {"field": "lo", "type": "quantitative"}, "y2": {"field": "hi"}}},
    {"transform": [{"filter": "datum.c === '–40 deg'"}], "mark": {"type": "line", "strokeWidth": 2.5, "clip": true},
     "encoding": {"y": {"field": "y", "type": "quantitative"}, "color": {"field": "c", "type": "nominal"}, "strokeDash": {"field": "c", "type": "nominal"}}},
    {"transform": [{"filter": "datum.c === 'Final 0 deg'"}], "mark": {"type": "area", "color": "#6cc35f", "opacity": 0.5, "clip": true},
     "encoding": {"y": {"field": "lo", "type": "quantitative"}, "y2": {"field": "hi"}}},
    {"transform": [{"filter": "datum.c === 'Final 0 deg'"}], "mark": {"type": "line", "strokeWidth": 2.5, "clip": true},
     "encoding": {"y": {"field": "y", "type": "quantitative"}, "color": {"field": "c", "type": "nominal"}, "strokeDash": {"field": "c", "type": "nominal"}}}
   ]
  }
  ]
 }
 ]
},
{
 "title": {"text": "(b)", "anchor": "start", "fontSize": 24, "fontWeight": "normal", "dx": -8, "dy": 26, "offset": 0},
 "hconcat": [
 {
  "title": {"text": ["Group averaged", "conductance impulse response"], "anchor": "middle", "dx": 7, "fontSize": 19, "fontWeight": "normal", "lineHeight": 22, "offset": 15},
  "spacing": 14,
  "hconcat": [
  {
   "width": 178, "height": 255,
   "title": {"text": "Head"},
   "data": {"name": "ch"},
   "encoding": {"x": {"field": "x", "type": "quantitative", "scale": {"domain": [0, 0.15], "nice": false, "zero": false}, "axis": {"values": [0, 0.05, 0.1], "format": "~g", "title": "Time (s)"}}},
   "layer": [
    {"transform": [{"filter": "datum.c === 'Initial 0 deg'"}], "mark": {"type": "area", "color": "#5b8cc8", "opacity": 0.5, "clip": true},
     "encoding": {"y": {"field": "lo", "type": "quantitative", "scale": {"domain": [-4, 6], "nice": false, "zero": false}, "axis": {"values": [-4, -2, 0, 2, 4, 6], "title": "Normalized response"}}, "y2": {"field": "hi"}}},
    {"transform": [{"filter": "datum.c === 'Initial 0 deg'"}], "mark": {"type": "line", "strokeWidth": 2.5, "clip": true},
     "encoding": {"y": {"field": "y", "type": "quantitative"}, "color": {"field": "c", "type": "nominal"}, "strokeDash": {"field": "c", "type": "nominal"}}},
    {"transform": [{"filter": "datum.c === '–40 deg'"}], "mark": {"type": "area", "color": "#f06262", "opacity": 0.5, "clip": true},
     "encoding": {"y": {"field": "lo", "type": "quantitative"}, "y2": {"field": "hi"}}},
    {"transform": [{"filter": "datum.c === '–40 deg'"}], "mark": {"type": "line", "strokeWidth": 2.5, "clip": true},
     "encoding": {"y": {"field": "y", "type": "quantitative"}, "color": {"field": "c", "type": "nominal"}, "strokeDash": {"field": "c", "type": "nominal"}}},
    {"transform": [{"filter": "datum.c === 'Final 0 deg'"}], "mark": {"type": "area", "color": "#6cc35f", "opacity": 0.5, "clip": true},
     "encoding": {"y": {"field": "lo", "type": "quantitative"}, "y2": {"field": "hi"}}},
    {"transform": [{"filter": "datum.c === 'Final 0 deg'"}], "mark": {"type": "line", "strokeWidth": 2.5, "clip": true},
     "encoding": {"y": {"field": "y", "type": "quantitative"}, "color": {"field": "c", "type": "nominal"}, "strokeDash": {"field": "c", "type": "nominal"}}}
   ]
  },
  {
   "width": 167, "height": 255,
   "title": {"text": "Forearm"},
   "data": {"name": "cf"},
   "encoding": {"x": {"field": "x", "type": "quantitative", "scale": {"domain": [0, 0.142], "nice": false, "zero": false}, "axis": {"values": [0, 0.05, 0.1], "format": "~g", "title": "Time (s)"}}},
   "layer": [
    {"transform": [{"filter": "datum.c === 'Initial 0 deg'"}], "mark": {"type": "area", "color": "#5b8cc8", "opacity": 0.5, "clip": true},
     "encoding": {"y": {"field": "lo", "type": "quantitative", "scale": {"domain": [-4, 6], "nice": false, "zero": false}, "axis": {"values": [-4, -2, 0, 2, 4, 6], "title": "Normalized response"}}, "y2": {"field": "hi"}}},
    {"transform": [{"filter": "datum.c === 'Initial 0 deg'"}], "mark": {"type": "line", "strokeWidth": 2.5, "clip": true},
     "encoding": {"y": {"field": "y", "type": "quantitative"},
      "color": {"field": "c", "type": "nominal",
        "legend": {"orient": "none", "legendX": 801, "legendY": 2, "title": null, "symbolType": "stroke", "symbolSize": 1500, "symbolStrokeWidth": 2.5, "clipHeight": 16, "labelFontSize": 15.5, "labelOffset": 3, "rowPadding": 4.5, "labelColor": "#1a1a1a", "labelLimit": 300}},
      "strokeDash": {"field": "c", "type": "nominal",
        "legend": {"orient": "none", "legendX": 801, "legendY": 2, "title": null, "symbolType": "stroke", "symbolSize": 1500, "symbolStrokeWidth": 2.5, "clipHeight": 16, "labelFontSize": 15.5, "labelOffset": 3, "rowPadding": 4.5, "labelColor": "#1a1a1a", "labelLimit": 300}}}},
    {"transform": [{"filter": "datum.c === '–40 deg'"}], "mark": {"type": "area", "color": "#f06262", "opacity": 0.5, "clip": true},
     "encoding": {"y": {"field": "lo", "type": "quantitative"}, "y2": {"field": "hi"}}},
    {"transform": [{"filter": "datum.c === '–40 deg'"}], "mark": {"type": "line", "strokeWidth": 2.5, "clip": true},
     "encoding": {"y": {"field": "y", "type": "quantitative"}, "color": {"field": "c", "type": "nominal"}, "strokeDash": {"field": "c", "type": "nominal"}}},
    {"transform": [{"filter": "datum.c === 'Final 0 deg'"}], "mark": {"type": "area", "color": "#6cc35f", "opacity": 0.5, "clip": true},
     "encoding": {"y": {"field": "lo", "type": "quantitative"}, "y2": {"field": "hi"}}},
    {"transform": [{"filter": "datum.c === 'Final 0 deg'"}], "mark": {"type": "line", "strokeWidth": 2.5, "clip": true},
     "encoding": {"y": {"field": "y", "type": "quantitative"}, "color": {"field": "c", "type": "nominal"}, "strokeDash": {"field": "c", "type": "nominal"}}}
   ]
  }
  ]
 }
 ]
}
]
}
